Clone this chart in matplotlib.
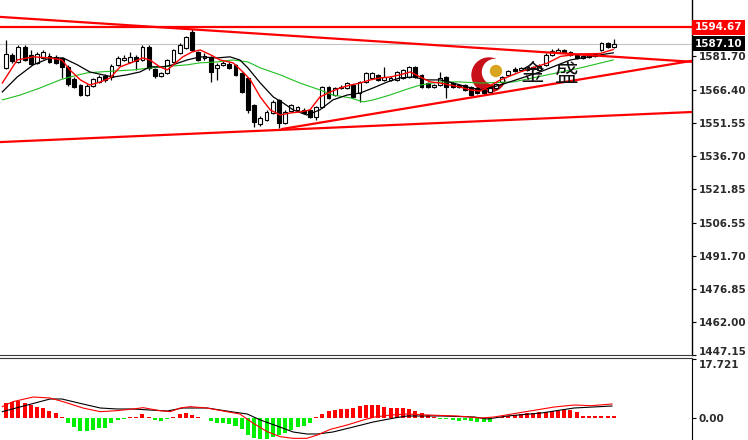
import numpy as np
import matplotlib
matplotlib.use("Agg")
import matplotlib.pyplot as plt
from matplotlib.patches import Circle
from matplotlib.transforms import IdentityTransform, ScaledTranslation

# ---- candle data (one entry per bar) ----
opens = [1576.3, 1582.2, 1579.0, 1585.8, 1582.2, 1578.6, 1580.8, 1581.7, 1581.3, 1580.8,
         1576.8, 1571.3, 1568.6, 1564.1, 1568.2, 1570.0, 1572.7, 1572.2, 1577.7, 1579.9,
         1579.0, 1581.3, 1579.9, 1585.8, 1575.9, 1572.7, 1574.1, 1579.0, 1583.1, 1585.3,
         1592.5, 1583.5, 1580.8, 1581.3, 1576.3, 1577.7, 1578.1, 1577.7, 1574.1, 1571.8,
         1559.6, 1551.1, 1552.9, 1556.0, 1561.9, 1551.5, 1556.9, 1557.4, 1557.4, 1557.4,
         1554.2, 1558.7, 1567.7, 1564.1, 1567.3, 1567.3, 1568.6, 1565.0, 1570.0, 1571.8,
         1573.2, 1570.9, 1570.9, 1570.9, 1571.8, 1572.2, 1576.8, 1573.2, 1569.5, 1567.7,
         1568.6, 1572.2, 1569.5, 1568.6, 1568.6, 1567.7, 1567.3, 1566.4, 1565.5, 1567.3,
         1570.0, 1573.2, 1575.9, 1575.4, 1575.4, 1576.8, 1575.4, 1577.7, 1582.2, 1583.5,
         1584.4, 1583.5, 1582.2, 1580.8, 1581.3, 1581.7, 1584.4, 1587.6, 1585.8]
highs = [1588.9, 1583.1, 1586.7, 1586.7, 1584.4, 1583.5, 1584.4, 1583.1, 1582.2, 1581.3,
         1577.7, 1572.2, 1569.1, 1569.1, 1571.8, 1573.2, 1573.6, 1578.1, 1581.7, 1582.2,
         1583.5, 1582.2, 1586.7, 1586.7, 1576.3, 1574.5, 1580.4, 1584.9, 1587.6, 1590.7,
         1593.9, 1584.0, 1583.1, 1581.7, 1578.6, 1579.5, 1579.0, 1578.1, 1574.5, 1572.2,
         1560.1, 1554.7, 1557.4, 1561.9, 1562.3, 1557.4, 1560.1, 1559.2, 1558.3, 1557.8,
         1559.2, 1568.2, 1568.2, 1567.7, 1568.6, 1570.0, 1569.1, 1570.4, 1574.5, 1574.5,
         1573.6, 1576.8, 1572.7, 1575.0, 1575.9, 1577.2, 1577.2, 1573.6, 1570.0, 1569.1,
         1574.5, 1572.7, 1570.0, 1569.1, 1569.1, 1568.2, 1567.7, 1566.8, 1568.2, 1569.5,
         1572.7, 1575.4, 1576.8, 1576.8, 1577.2, 1577.2, 1578.1, 1583.1, 1584.9, 1585.3,
         1584.9, 1584.0, 1582.6, 1582.2, 1582.6, 1583.1, 1588.0, 1588.0, 1589.4]
lows = [1575.8, 1578.6, 1578.6, 1579.5, 1577.7, 1578.1, 1580.4, 1578.6, 1578.1, 1571.8,
        1568.2, 1567.3, 1563.7, 1563.7, 1567.7, 1569.5, 1570.0, 1570.9, 1577.2, 1579.5,
        1578.6, 1575.4, 1579.5, 1575.4, 1571.8, 1572.2, 1573.6, 1578.6, 1582.6, 1584.9,
        1584.0, 1579.5, 1579.9, 1570.0, 1570.9, 1577.2, 1575.9, 1572.7, 1565.0, 1556.0,
        1549.7, 1550.2, 1552.4, 1555.6, 1549.3, 1551.1, 1556.5, 1556.9, 1555.6, 1553.8,
        1552.9, 1558.3, 1562.3, 1563.7, 1566.8, 1566.8, 1562.8, 1561.0, 1569.5, 1571.3,
        1570.4, 1570.4, 1570.4, 1570.4, 1571.3, 1571.8, 1571.8, 1567.3, 1567.3, 1567.3,
        1568.2, 1562.8, 1567.3, 1567.3, 1565.9, 1563.7, 1564.6, 1564.6, 1565.0, 1566.8,
        1569.5, 1572.7, 1574.5, 1575.0, 1575.0, 1575.4, 1575.0, 1577.2, 1581.7, 1583.1,
        1583.1, 1581.7, 1580.4, 1580.4, 1580.8, 1581.3, 1584.0, 1585.3, 1585.3]
closes = [1582.6, 1579.5, 1585.8, 1579.9, 1578.1, 1582.6, 1583.5, 1579.0, 1578.6, 1576.8,
          1569.1, 1567.7, 1564.1, 1568.2, 1571.3, 1572.2, 1570.9, 1577.2, 1580.8, 1580.8,
          1581.3, 1579.5, 1585.8, 1576.3, 1572.7, 1574.1, 1579.9, 1584.4, 1586.7, 1590.3,
          1584.4, 1579.9, 1581.7, 1574.5, 1577.7, 1578.6, 1576.3, 1573.2, 1565.5, 1557.4,
          1552.0, 1553.8, 1556.5, 1561.0, 1551.5, 1556.5, 1559.6, 1558.7, 1556.0, 1554.2,
          1558.7, 1567.7, 1562.8, 1567.3, 1567.7, 1569.5, 1563.2, 1570.0, 1574.1, 1574.1,
          1570.9, 1572.2, 1571.8, 1574.5, 1575.4, 1576.8, 1572.2, 1567.7, 1567.7, 1568.6,
          1571.8, 1567.7, 1567.7, 1567.7, 1566.4, 1564.1, 1565.0, 1565.0, 1567.3, 1569.1,
          1572.2, 1575.0, 1575.0, 1576.3, 1576.8, 1575.9, 1577.2, 1582.2, 1584.0, 1584.4,
          1583.5, 1582.2, 1580.8, 1581.7, 1582.2, 1582.6, 1587.6, 1585.8, 1587.1]

# ---- moving averages, read at sampled bar positions ----
ma_red_x = [-0.6, 1.8, 4.4, 7.1, 9.0, 10.3, 12.0, 13.5, 15.2, 16.8, 18.4, 20.5, 22.0, 23.2, 24.8,
            26.0, 27.0, 28.5, 30.0, 31.3, 33.0, 34.5, 36.6, 38.2, 39.4, 41.0, 42.6, 44.2, 45.8, 47.4,
            49.0, 50.6, 52.3, 53.9, 55.5, 57.1, 58.7, 60.3, 61.9, 63.5, 65.2, 66.8, 68.4, 70.0, 71.6,
            73.2, 74.8, 76.5, 79.7, 82.9, 87.3, 89.4, 92.6, 95.8, 97.9]
ma_red = [1569.5, 1579.9, 1581.3, 1580.8, 1579.9, 1575.4, 1570.9, 1568.6, 1570.0, 1571.8, 1576.8,
          1579.0, 1580.8, 1579.9, 1576.8, 1575.4, 1577.7, 1581.3, 1583.5, 1584.4, 1582.2, 1579.9,
          1578.6, 1574.5, 1570.9, 1563.2, 1557.4, 1555.1, 1556.0, 1556.5, 1557.4, 1563.2, 1565.5,
          1567.3, 1568.6, 1569.5, 1570.9, 1571.8, 1572.2, 1573.2, 1574.5, 1572.2, 1570.0, 1569.5,
          1568.6, 1567.7, 1566.4, 1565.9, 1570.9, 1574.5, 1578.5, 1581.5, 1582.6, 1582.8, 1584.6]
ma_black_x = [-0.6, 1.8, 4.4, 7.1, 9.2, 11.5, 13.5, 15.6, 17.3, 19.5, 21.6, 23.2, 25.3, 26.9, 29.2,
              31.3, 34.0, 36.1, 37.7, 39.0, 41.0, 43.1, 44.7, 46.3, 48.5, 50.6, 52.7, 55.0, 57.1,
              59.2, 61.5, 63.5, 65.6, 67.9, 70.0, 72.1, 74.4, 76.5, 79.7, 86.1, 91.0, 95.8, 97.9]
ma_black = [1565.5, 1572.2, 1577.7, 1580.8, 1580.8, 1577.7, 1574.5, 1573.2, 1572.2, 1573.2, 1574.5,
            1576.8, 1576.8, 1577.7, 1579.9, 1581.3, 1580.8, 1581.3, 1579.9, 1576.3, 1569.5, 1563.2,
            1560.5, 1557.4, 1555.1, 1557.4, 1561.9, 1564.1, 1565.0, 1567.3, 1570.0, 1571.8, 1572.2,
            1570.9, 1570.9, 1569.5, 1567.7, 1566.4, 1568.6, 1574.5, 1579.9, 1582.2, 1583.1]
ma_green_x = [-0.6, 2.3, 5.5, 8.7, 10.3, 13.1, 15.2, 17.9, 20.5, 23.2, 25.3, 26.9, 29.2, 31.3, 34.0,
              36.6, 39.0, 41.0, 44.2, 47.4, 50.6, 52.7, 55.5, 57.6, 59.2, 61.9, 64.7, 66.8, 70.0,
              73.2, 76.5, 81.8, 87.3, 92.6, 97.9]
ma_green = [1561.9, 1564.1, 1567.3, 1570.9, 1572.2, 1574.1, 1574.5, 1575.0, 1575.4, 1576.3, 1576.8,
            1577.2, 1577.7, 1578.6, 1579.0, 1579.9, 1579.0, 1576.3, 1573.2, 1569.5, 1566.4, 1564.1,
            1562.8, 1561.0, 1561.9, 1564.1, 1566.8, 1568.6, 1570.0, 1570.0, 1569.5, 1570.0, 1573.2,
            1576.3, 1579.9]

# ---- trend lines: (bar index, price) end points ----
line_top_x, line_top_y = [-1, 111], [1599.3, 1579.0]
line_up_x, line_up_y = [44.5, 111], [1548.8, 1579.7]
line_low_x, line_low_y = [-1, 111], [1542.9, 1556.5]
level_price = 1594.67
bid_price = 1587.10

price_ticks = [1581.70, 1566.40, 1551.55, 1536.70, 1521.85, 1506.55, 1491.70, 1476.85, 1462.00, 1447.15]

# ---- MACD panel ----
macd_hist = [4.5, 4.9, 5.1, 4.5, 3.9, 3.4, 2.9, 2.1, 1.4, 0.2,
             -1.5, -2.6, -3.8, -3.8, -3.6, -3.1, -3.1, -1.5, -0.6, -0.2,
             0.2, 0.4, 1.2, 0.2, -0.6, -0.9, -0.3, 0.3, 1.2, 1.6,
             0.9, 0.3, 0.1, -1.0, -1.5, -1.5, -1.8, -2.4, -3.4, -5.1,
             -6.1, -6.4, -6.4, -5.7, -5.1, -4.6, -3.6, -2.8, -2.4, -1.4,
             0.2, 1.2, 2.0, 2.5, 2.7, 2.7, 3.0, 3.7, 3.9, 3.9,
             3.9, 3.4, 3.1, 2.9, 2.9, 2.7, 2.1, 1.4, 0.9, 0.3,
             -0.3, -0.4, -0.6, -0.8, -0.6, -0.8, -1.1, -1.3, -1.1, 0.1,
             0.2, 0.7, 1.0, 1.2, 1.4, 1.4, 1.7, 1.7, 2.0, 2.2,
             2.5, 2.5, 1.7, 0.5, 0.5, 0.5, 0.5, 0.5, 0.5]
macd_black_x = [-0.6, 7.1, 9.0, 12.4, 15.2, 17.9, 20.5, 23.2, 26.0, 28.5, 32.4, 36.6, 38.9, 41.0, 43.7,
                46.3, 48.5, 50.2, 52.7, 56.0, 59.2, 62.6, 64.7, 70.2, 75.5, 77.6, 80.8, 86.3, 91.6, 97.7]
macd_black = [1.9, 5.7, 5.7, 4.2, 3.0, 2.7, 2.7, 2.4, 2.1, 3.0, 3.0, 1.8, 1.2, -0.6, -2.4,
              -4.2, -4.8, -4.8, -4.2, -2.7, -1.2, 0.0, 0.6, 0.6, 0.3, -0.3, 0.6, 1.5, 3.0, 3.6]
macd_red_x = [-0.6, 1.1, 4.4, 7.1, 9.2, 12.4, 15.2, 17.9, 20.5, 22.1, 24.8, 26.5, 28.1, 29.7, 32.4,
              35.6, 37.7, 39.8, 42.1, 44.2, 46.3, 48.5, 50.2, 52.3, 55.0, 57.6, 59.4, 62.1, 64.7,
              67.9, 72.7, 76.6, 78.7, 83.5, 88.4, 91.6, 94.4, 97.7]
macd_red = [3.4, 4.9, 6.3, 6.0, 4.9, 3.0, 1.9, 2.2, 2.7, 3.1, 2.2, 1.9, 3.0, 3.4, 3.0,
            1.9, 1.2, -1.5, -4.1, -5.6, -6.1, -6.1, -5.1, -3.4, -2.1, -0.6, 0.3, 0.9, 1.2,
            0.9, 0.6, 0.0, 0.3, 1.8, 3.3, 3.9, 3.7, 4.2]
macd_ticks = [17.721, 0.0]
macd_labels = ["17.721", "0.00"]

RED = "#ff0000"
LABEL = "#2b2b2b"

fig = plt.figure(figsize=(7.48, 4.40), dpi=100)
ax = fig.add_axes([0.0, 1 - 355 / 440, 692 / 748, 355 / 440])
ax2 = fig.add_axes([0.0, 0.0, 692 / 748, 82 / 440])

x = np.arange(len(closes))
o, h, l, c = map(np.asarray, (opens, highs, lows, closes))
up = c >= o

# candles
ax.vlines(x, l, h, color="black", lw=0.9, zorder=2)
body_low = np.minimum(o, c)
body_h = np.maximum(np.abs(c - o), 0.25)
ax.bar(x[up], body_h[up], bottom=body_low[up], width=0.62, color="white",
       edgecolor="black", lw=0.8, zorder=3)
ax.bar(x[~up], body_h[~up], bottom=body_low[~up], width=0.62, color="black",
       edgecolor="black", lw=0.8, zorder=3)

# moving averages
ax.plot(ma_green_x, ma_green, color="#1fbf1f", lw=0.8, zorder=4)
ax.plot(ma_black_x, ma_black, color="black", lw=0.9, zorder=4)
ax.plot(ma_red_x, ma_red, color=RED, lw=1.0, zorder=4)

# levels and trend lines
ax.axhline(bid_price, color="#c4c4c4", lw=0.8, zorder=1)
ax.axhline(level_price, color=RED, lw=1.6, zorder=5)
for lx, ly in ((line_top_x, line_top_y), (line_up_x, line_up_y), (line_low_x, line_low_y)):
    ax.plot(lx, ly, color=RED, lw=1.6, zorder=5)

# watermark logo
ident = IdentityTransform()
for circ in (Circle((489, 365), 17, color="#c8101a"),
             Circle((495, 368), 12.5, color="white"),
             Circle((496, 369), 5.5, color="#d9a520")):
    circ.set_transform(ident)
    circ.set_zorder(1.5)
    ax.add_patch(circ)
cjk = ["Noto Sans CJK SC", "DejaVu Sans"]
ax.text(0.752, 0.79, "金", transform=ax.transAxes, fontsize=17, family=cjk,
        color="#111111", zorder=6, va="center")
ax.text(0.802, 0.79, "盛", transform=ax.transAxes, fontsize=17, family=cjk,
        color="#111111", zorder=6, va="center")

ax.set_xlim(-0.97, 110.6)
ax.set_ylim(1447.0, 1606.9)
ax.yaxis.tick_right()
ax.set_yticks(price_ticks)
ax.set_yticklabels([f"{t:.2f}" for t in price_ticks])
ax.set_xticks([])
ax.tick_params(axis="y", length=3, width=0.8, pad=2, labelsize=7.5, labelcolor=LABEL)
for lab in ax.get_yticklabels():
    lab.set_fontweight("bold")
# lift the lowest label a little so it clears the MACD scale
last = ax.get_yticklabels()[-1]
last.set_transform(last.get_transform() + ScaledTranslation(0, 2.5 / 72, fig.dpi_scale_trans))
for side in ("left", "top"):
    ax.spines[side].set_visible(False)
ax.spines["bottom"].set_color("#3a3a3a")
ax.spines["bottom"].set_linewidth(0.8)
ax.spines["right"].set_linewidth(1.0)

# price boxes on the axis
ax.text(1.004, level_price, f"{level_price:.2f}", transform=ax.get_yaxis_transform(),
        ha="left", va="center", fontsize=7.5, fontweight="bold", color="white",
        bbox=dict(facecolor=RED, edgecolor="none", pad=1.8), clip_on=False)
ax.text(1.004, bid_price, f"{bid_price:.2f}", transform=ax.get_yaxis_transform(),
        ha="left", va="center", fontsize=7.5, fontweight="bold", color="white",
        bbox=dict(facecolor="black", edgecolor="none", pad=1.8), clip_on=False)

# MACD
hist = np.asarray(macd_hist)
ax2.bar(x, hist, width=0.65, color=np.where(hist >= 0, RED, "#00ee00"), zorder=2)
ax2.plot(macd_black_x, macd_black, color="black", lw=0.8, zorder=3)
ax2.plot(macd_red_x, macd_red, color=RED, lw=0.8, zorder=3)
ax2.set_xlim(-0.97, 110.6)
ax2.set_ylim(-6.6, 18.0)
ax2.yaxis.tick_right()
ax2.set_yticks(macd_ticks)
ax2.set_yticklabels(macd_labels)
ax2.set_xticks([])
ax2.tick_params(axis="y", length=3, width=0.8, pad=2, labelsize=7.5, labelcolor=LABEL)
for lab in ax2.get_yticklabels():
    lab.set_fontweight("bold")
top = ax2.get_yticklabels()[0]
top.set_va("top")
top.set_transform(top.get_transform() + ScaledTranslation(0, -1.0 / 72, fig.dpi_scale_trans))
for side in ("left", "bottom"):
    ax2.spines[side].set_visible(False)
ax2.spines["top"].set_color("#3a3a3a")
ax2.spines["top"].set_linewidth(0.8)

fig.savefig("out.png", dpi=100)
